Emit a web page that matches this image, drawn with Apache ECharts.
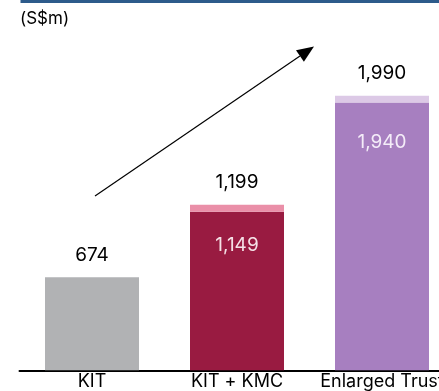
<!DOCTYPE html>
<html>
<head>
<meta charset="utf-8">
<script src="https://cdn.jsdelivr.net/npm/echarts@6/dist/echarts.min.js"></script>
<style>
  html, body { margin: 0; padding: 0; background: #fff; }
  #chart { width: 439px; height: 391px; }
</style>
</head>
<body>
<div id="chart"></div>
<script>
// Categories and values (S$m)
const categories = ['KIT', 'KIT + KMC', 'Enlarged Trust'];
const baseValues = [674, 1149, 1940];
const totalValues = [674, 1199, 1990];

const FONT = 'Inter';

const baseColors = ['#B1B2B4', '#991B41', '#A77FC0'];
const topColors = ['#B1B2B4', '#EA8FA8', '#DCC9E6'];
const innerLabelColors = ['#000', '#F5E1E6', '#F4ECF8'];
const innerLabelDistance = [0, 24, 30];

const chart = echarts.init(document.getElementById('chart'), null, { renderer: 'canvas' });

// Lower segment of each bar, with its own value written inside
const baseData = baseValues.map((v, i) => ({
  value: v,
  itemStyle: { color: baseColors[i] },
  label: i === 0 ? { show: false } : {
    show: true,
    position: 'insideTop',
    distance: innerLabelDistance[i],
    color: innerLabelColors[i]
  }
}));

// Upper segment: difference up to the total, labelled with the total
const topData = totalValues.map((t, i) => ({
  value: t - baseValues[i],
  itemStyle: { color: topColors[i] }
}));

const fmt = v => v.toLocaleString('en-US');

// Trend arrow
const arrowStart = [95, 196];
const arrowTip = [314, 46.5];
const dx = arrowTip[0] - arrowStart[0], dy = arrowTip[1] - arrowStart[1];
const len = Math.sqrt(dx * dx + dy * dy);
const ux = dx / len, uy = dy / len;
const headLen = 17, headHalf = 7;
const bx = arrowTip[0] - ux * headLen, by = arrowTip[1] - uy * headLen;

chart.setOption({
  animation: false,
  grid: {
    left: 19.5, width: 435, top: 25.3, bottom: 20.7,
    containLabel: false,
    outerBoundsMode: 'none'
  },
  xAxis: {
    type: 'category',
    data: categories,
    axisLine: { lineStyle: { color: '#000', width: 2 } },
    axisTick: { show: false },
    axisLabel: { color: '#000', fontFamily: FONT, fontSize: 18, margin: 2, interval: 0, hideOverlap: false }
  },
  yAxis: {
    type: 'value',
    min: 0,
    max: 2500,
    show: false,
    splitLine: { show: false }
  },
  series: [
    {
      type: 'bar',
      stack: 'total',
      barWidth: 94,
      data: baseData,
      label: {
        fontFamily: FONT,
        fontSize: 19,
        formatter: p => fmt(p.value)
      }
    },
    {
      type: 'bar',
      stack: 'total',
      barWidth: 94,
      data: topData,
      label: {
        show: true,
        position: 'top',
        distance: 13,
        color: '#000',
        fontFamily: FONT,
        fontSize: 19,
        formatter: p => fmt(totalValues[p.dataIndex])
      }
    }
  ],
  graphic: [
    {
      type: 'rect',
      shape: { x: 20.5, y: 0, width: 420, height: 3 },
      style: { fill: '#2D5B8B' }
    },
    {
      type: 'text',
      left: 20,
      top: 10,
      style: { text: '(S$m)', fontFamily: FONT, fontSize: 17, fill: '#000' }
    },
    {
      type: 'line',
      shape: { x1: arrowStart[0], y1: arrowStart[1], x2: bx, y2: by },
      style: { stroke: '#000', lineWidth: 1.2 }
    },
    {
      type: 'polygon',
      shape: {
        points: [
          arrowTip,
          [bx + uy * headHalf, by - ux * headHalf],
          [bx - uy * headHalf, by + ux * headHalf]
        ]
      },
      style: { fill: '#000' }
    }
  ]
});
</script>
</body>
</html>
